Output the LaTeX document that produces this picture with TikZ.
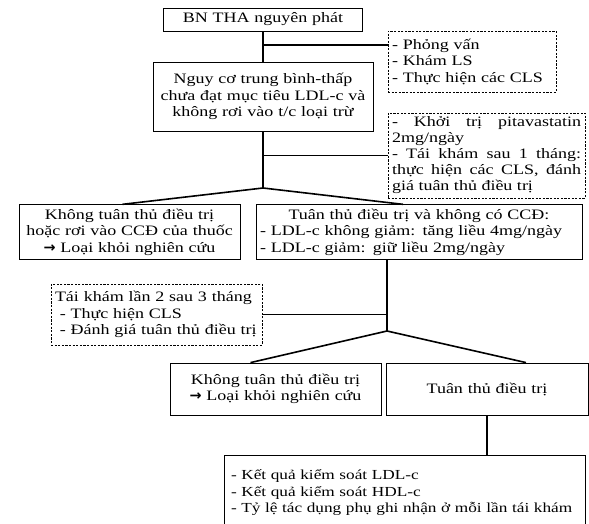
\documentclass[tikz,border=0pt]{standalone}
\usepackage{fontspec}
\setmainfont{Liberation Serif}[FakeStretch=1.25]
\newfontfamily\arrowfont{DejaVu Sans}
\usetikzlibrary{calc}

\tikzset{
  box/.style={draw, line width=0.8pt, inner sep=4pt, align=center},
  dbox/.style={draw, line width=0.7pt, dash pattern=on 2.2pt off 1.4pt, inner sep=4pt, align=left},
  link/.style={line width=1.6pt}
}
\newcommand{\toarrow}{{\arrowfont\bfseries →}}

\begin{document}
\begin{tikzpicture}[x=1pt, y=-1pt, every node/.style={font=\fontsize{14.4}{16.5}\selectfont}]
  % Fix the frame of the picture
  \useasboundingbox (0,0) rectangle (589,524);

  % Main boxes
  \node[box, text width=191pt, minimum height=23pt] (bn) at (263,19.5) {BN THA nguyên phát};
  \node[box, text width=212pt, minimum height=69pt] (nguyco) at (263,96.5)
    {Nguy cơ trung bình-thấp\\ chưa đạt mục tiêu LDL-c và\\ không rơi vào t/c loại trừ};
  \node[box, text width=213pt, minimum height=50pt] (khong1) at (129.5,232)
    {Không tuân thủ điều trị\\ hoặc rơi vào CCĐ của thuốc\\ \toarrow{} Loại khỏi nghiên cứu};
  \node[box, align=left, text width=318pt, minimum height=50pt] (tuan1) at (419,232)
    {\makebox[318pt][c]{Tuân thủ điều trị và không có CCĐ:}\\
     - LDL-c không giảm: tăng liều 4mg/ngày\\
     - LDL-c giảm: giữ liều 2mg/ngày};
  \node[box, text width=203pt, minimum height=52pt] (khong2) at (275.5,389)
    {Không tuân thủ điều trị\\ \toarrow{} Loại khỏi nghiên cứu};
  \node[box, text width=194pt, minimum height=52pt] (tuan2) at (487,389) {Tuân thủ điều trị};
  \node[box, align=left, inner xsep=7pt, text width=347pt, minimum height=75pt,
        font=\fontsize{13.8}{16.5}\selectfont] (ketqua) at (404.5,492.5)
    {- Kết quả kiểm soát LDL-c\\
     - Kết quả kiểm soát HDL-c\\
     \mbox{- Tỷ lệ tác dụng phụ ghi nhận ở mỗi lần tái khám}};

  % Dashed side notes
  \node[dbox, text width=160pt, minimum height=61pt] (khamls) at (472,61.5)
    {- Phỏng vấn\\ - Khám LS\\ - Thực hiện các CLS};
  \node[dbox, align=justify, text width=189pt, minimum height=85pt,
        font=\fontsize{14.4}{16}\selectfont] (khoitri) at (486.5,155.5)
    {- Khởi trị pitavastatin 2mg/ngày\\
     - Tái khám sau 1 tháng: thực hiện các CLS, đánh giá tuân thủ điều trị};
  \node[dbox, text width=203pt, minimum height=61pt] (taikham) at (156.5,314.5)
    {Tái khám lần 2 sau 3 tháng\\ \ - Thực hiện CLS\\ \ - Đánh giá tuân thủ điều trị};

  % Junctions
  \coordinate (j1) at (263,45);
  \coordinate (s1) at (263,188);
  \coordinate (s2) at (387,331);

  % Connectors
  \draw[link] (bn.south) -- (bn.south |- nguyco.north);
  \draw[link] (j1) -- (j1 -| khamls.west);
  \draw[link] (nguyco.south) -- (s1);
  \draw[link] (nguyco.south |- khoitri.west) -- (khoitri.west);
  \draw[link] (s1) -- ($(khong1.north)+(-7,0)$);
  \draw[link] (s1) -- ($(tuan1.north)+(-16,0)$);
  \draw[link] ($(tuan1.south)+(-32,0)$) -- (s2);
  \draw[link] (taikham.east) -- (taikham.east -| s2);
  \draw[link] (s2) -- ($(khong2.north)+(-25,0)$);
  \draw[link] (s2) -- ($(tuan2.north)+(39,0)$);
  \draw[link] (tuan2.south) -- (tuan2.south |- ketqua.north);
\end{tikzpicture}
\end{document}
